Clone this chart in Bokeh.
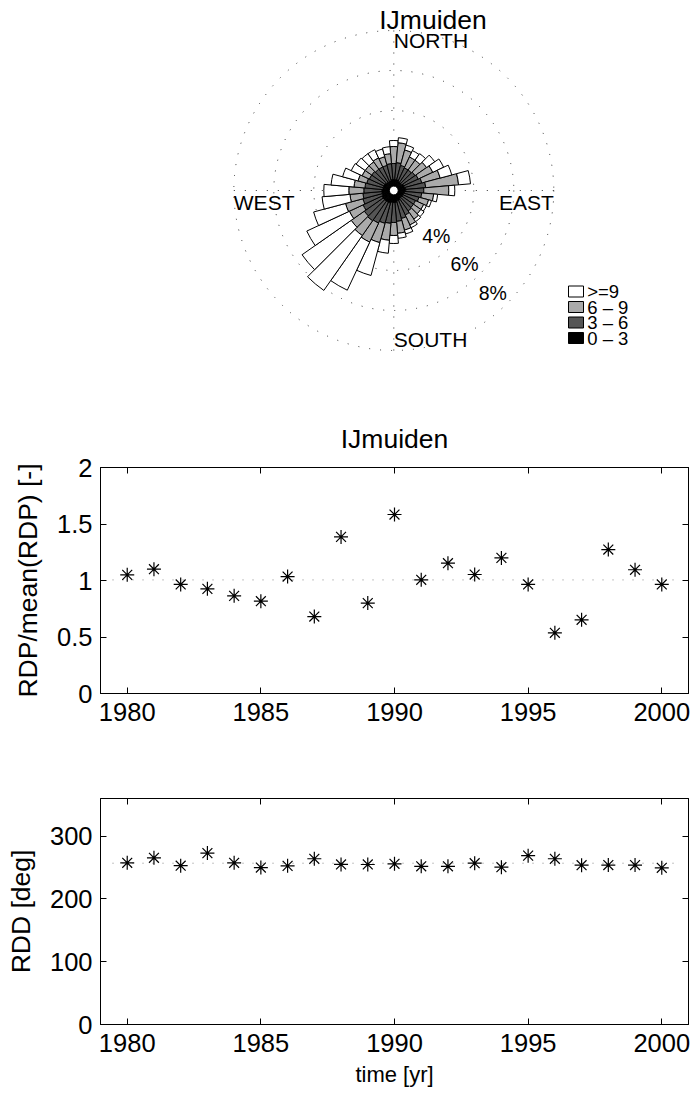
import numpy as np
from bokeh.plotting import figure
from bokeh.layouts import column
from bokeh.models import Range1d, FixedTicker, LinearAxis, NumeralTickFormatter
from bokeh.embed import file_html
from bokeh.resources import INLINE
from bokeh.core.properties import value

FONT = "Liberation Sans"

# ---------------- data ----------------
station = "IJmuiden"

# wind rose: 36 direction sectors (deg, clockwise from north), frequency in % per speed class
directions = list(range(0, 360, 10))
freq_0_3 = [0.55, 0.55, 0.55, 0.50, 0.50, 0.50, 0.55, 0.55, 0.60, 0.60, 0.55, 0.50,
            0.50, 0.50, 0.50, 0.55, 0.55, 0.60, 0.60, 0.60, 0.65, 0.65, 0.65, 0.65,
            0.65, 0.60, 0.60, 0.60, 0.55, 0.55, 0.55, 0.55, 0.50, 0.50, 0.50, 0.55]
freq_3_6 = [0.80, 0.85, 0.75, 0.75, 0.75, 0.80, 0.80, 0.90, 1.00, 0.90, 0.85, 0.80,
            0.70, 0.70, 0.75, 0.80, 0.90, 0.95, 1.00, 1.05, 1.05, 1.15, 1.20, 1.15,
            1.05, 1.00, 0.95, 0.90, 0.90, 0.85, 0.80, 0.80, 0.80, 0.80, 0.80, 0.80]
freq_6_9 = [0.85, 1.00, 0.80, 0.60, 0.60, 0.70, 0.80, 0.95, 1.65, 1.25, 0.60, 0.50,
            0.45, 0.45, 0.50, 0.55, 0.60, 0.60, 0.65, 0.85, 1.00, 1.05, 0.90, 0.80,
            0.75, 0.90, 0.65, 0.75, 0.55, 0.45, 0.40, 0.40, 0.45, 0.50, 0.45, 0.50]
freq_ge_9 = [0.30, 0.25, 0.25, 0.35, 0.40, 0.50, 0.60, 0.60, 0.60, 0.30, 0.20, 0.15,
             0.15, 0.20, 0.15, 0.15, 0.20, 0.25, 0.40, 0.65, 1.70, 2.65, 3.35, 3.00,
             2.35, 1.65, 1.40, 1.25, 1.15, 0.80, 0.60, 0.55, 0.50, 0.45, 0.40, 0.35]
class_labels = [">=9", "6 \u2013 9", "3 \u2013 6", "0 \u2013 3"]
class_colors = ["#ffffff", "#aaaaaa", "#555555", "#000000"]
ring_values = [4, 6, 8]
ring_labels = ["4%", "6%", "8%"]

# yearly series
years = list(range(1980, 2001))
rdp_norm = [1.05, 1.10, 0.965, 0.926, 0.864, 0.817, 1.035, 0.681, 1.386, 0.80, 1.584,
            1.006, 1.153, 1.053, 1.20, 0.965, 0.537, 0.652, 1.274, 1.095, 0.965]
rdd = [257.5, 265.5, 253.0, 273.0, 257.5, 250.0, 252.7, 264.0, 255.0, 254.9, 256.0,
       252.0, 252.0, 257.0, 250.6, 269.0, 264.0, 253.8, 254.0, 254.0, 249.6]
x_ticks = [1980, 1985, 1990, 1995, 2000]
rdp_ticks = [0, 0.5, 1, 1.5, 2]
rdd_ticks = [0, 100, 200, 300]

# ---------------- layout constants ----------------
LEFT, RIGHT = 100, 7
FW = 588
PX = 20.0            # pixels per percent on the rose
CX, CY = 393.3, 190.0
H1 = 400

# ---------------- wind rose ----------------
rose = figure(frame_width=FW, frame_height=H1, min_border_left=LEFT, min_border_right=RIGHT,
              min_border_top=0, min_border_bottom=0,
              x_range=Range1d((LEFT - CX) / PX, (LEFT + FW - CX) / PX),
              y_range=Range1d(-(H1 - CY) / PX, CY / PX), x_axis_type=None, y_axis_type=None,
              output_backend="svg", toolbar_location=None)
rose.grid.visible = False
rose.outline_line_color = None

R = max(ring_values)
rose.circle(x=[0] * len(ring_values), y=[0] * len(ring_values), radius=ring_values,
            fill_color=None, line_color="#333333", line_dash="1 10", line_width=1)
rose.line([-R, R], [0, 0], line_color="#333333", line_dash="1 10", line_width=1)
rose.line([0, 0], [-R, R], line_color="#333333", line_dash="1 10", line_width=1)

classes = [freq_0_3, freq_3_6, freq_6_9, freq_ge_9]
colors_inner_first = class_colors[::-1]
d = np.array(directions, dtype=float)
start = np.radians(90 - d - 5)
end = np.radians(90 - d + 5)
inner = np.zeros(len(d))
for k, fr in enumerate(classes):
    outer = inner + np.array(fr)
    rose.annular_wedge(x=0, y=0, inner_radius=inner, outer_radius=outer,
                       start_angle=start, end_angle=end, fill_color=colors_inner_first[k],
                       line_color="black", line_width=1)
    inner = outer
rose.circle(x=[0], y=[0], radius=0.22, fill_color="white", line_color="black", line_width=1)

# ring labels
ang = np.radians(-45)
rv = np.array(ring_values, dtype=float)
rose.text(x=rv * np.cos(ang), y=rv * np.sin(ang), text=ring_labels, text_font=value(FONT),
          text_font_size="19.5px", text_align="right", text_baseline="bottom", text_color="black")

# compass labels
rose.text(x=[0], y=[R + 0.08], text=["NORTH"], text_font=value(FONT), text_font_size="21px",
          text_align="left", text_baseline="top")
rose.text(x=[0], y=[-R], text=["SOUTH"], text_font=value(FONT), text_font_size="21px",
          text_align="left", text_baseline="bottom")
rose.text(x=[-R], y=[0], text=["WEST"], text_font=value(FONT), text_font_size="21px",
          text_align="left", text_baseline="top")
rose.text(x=[R], y=[0], text=["EAST"], text_font=value(FONT), text_font_size="21px",
          text_align="right", text_baseline="top")

# title
rose.text(x=[1.96], y=[8.55], text=[station], text_font=value(FONT), text_font_size="26.5px",
          text_align="center", text_baseline="alphabetic")

# legend
lx = 9.11
ly = -5.05 - 0.775 * np.arange(len(class_labels))
rose.rect(x=[lx] * len(class_labels), y=ly, width=0.75, height=0.55, fill_color=class_colors,
          line_color="black", line_width=1)
rose.text(x=[lx + 0.56] * len(class_labels), y=ly, text=class_labels, text_font=value(FONT),
          text_font_size="18.5px", text_align="left", text_baseline="middle")


# ---------------- time series ----------------
def style(p, yticks, xlabel=None, ylabel=None):
    p.grid.visible = False
    p.outline_line_color = "black"
    p.outline_line_alpha = 1
    p.background_fill_color = "white"
    p.border_fill_color = "white"
    p.xaxis.ticker = FixedTicker(ticks=x_ticks)
    p.yaxis.ticker = FixedTicker(ticks=yticks)
    for ax in (p.xaxis[0], p.yaxis[0]):
        ax.major_tick_in = 6
        ax.major_tick_out = 0
        ax.minor_tick_line_color = None
        ax.axis_line_color = "black"
        ax.major_tick_line_color = "black"
        ax.major_label_text_font = FONT
        ax.major_label_text_font_size = "25.5px"
        ax.major_label_text_color = "black"
        ax.axis_label_text_font = FONT
        ax.axis_label_text_font_style = "normal"
        ax.axis_label_text_color = "black"
    p.xaxis.major_label_standoff = 9
    p.yaxis.major_label_standoff = 8
    if ylabel:
        p.yaxis.axis_label = ylabel
        p.yaxis.axis_label_text_font_size = "26.5px"
        p.yaxis.axis_label_standoff = 11
    if xlabel:
        p.xaxis.axis_label = xlabel
        p.xaxis.axis_label_text_font_size = "22px"
        p.xaxis.axis_label_standoff = 7
    for side, ticks in (("above", x_ticks), ("right", yticks)):
        ax = LinearAxis(ticker=FixedTicker(ticks=ticks), major_tick_in=6, major_tick_out=0,
                        major_label_text_font_size="0px", major_label_standoff=0,
                        axis_line_color="black", major_tick_line_color="black",
                        minor_tick_line_color=None)
        ax.major_label_overrides = {t: "" for t in ticks}
        p.add_layout(ax, side)


p2 = figure(frame_width=FW, frame_height=226, min_border_left=LEFT, min_border_right=RIGHT,
            min_border_top=67, min_border_bottom=47, x_range=Range1d(1979, 2001),
            y_range=Range1d(0, 2), output_backend="svg", toolbar_location=None, title=station)
style(p2, rdp_ticks, ylabel="RDP/mean(RDP) [-]")
p2.yaxis[0].formatter = NumeralTickFormatter(format="0.[0]")
p2.title.text_font = FONT
p2.title.text_font_size = "26.5px"
p2.title.text_font_style = "normal"
p2.title.text_color = "black"
p2.title.align = "center"
p2.title.standoff = 27
m2 = float(np.mean(rdp_norm))
p2.line([years[0] - 0.55, years[-1] + 0.75], [m2, m2], line_color="#888888",
        line_dash="1 9", line_width=1)
p2.scatter(years, rdp_norm, marker="asterisk", size=14, line_color="black", line_width=1.2)

p3 = figure(frame_width=FW, frame_height=226, min_border_left=LEFT, min_border_right=RIGHT,
            min_border_top=58, min_border_bottom=72, x_range=Range1d(1979, 2001),
            y_range=Range1d(0, 360), output_backend="svg", toolbar_location=None)
style(p3, rdd_ticks, xlabel="time [yr]", ylabel="RDD [deg]")
m3 = float(np.mean(rdd))
p3.line([years[0] - 0.55, years[-1] + 0.75], [m3, m3], line_color="#888888",
        line_dash="1 9", line_width=1)
p3.scatter(years, rdd, marker="asterisk", size=14, line_color="black", line_width=1.2)

layout = column(rose, p2, p3, spacing=0)
open("out.html", "w").write(file_html(layout, INLINE))
